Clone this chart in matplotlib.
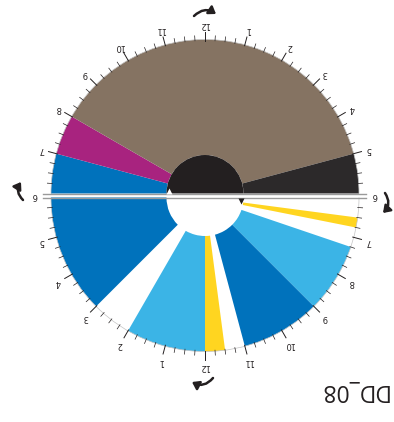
"""Twin 12-hour clock dial (shown rotated 180 degrees), activity blocks per half."""

import numpy as np
import matplotlib
matplotlib.use("Agg")
import matplotlib.pyplot as plt
from matplotlib.patches import Wedge, Arc, FancyArrowPatch

# top half: 6 -> 12 -> 6 (left to right over the top)
top_start = [6, 7, 8, 17]
top_end = [7, 8, 17, 18]
top_colors = ["#0072bc", "#a8237f", "#857362", "#2c292a"]

# bottom half: 6 -> 12 -> 6 (right to left under the bottom)
bot_start = [6.5, 7.25, 9, 11.5, 12, 15]
bot_end = [6.75, 9, 11, 12, 14, 18]
bot_colors = ["#ffd520", "#3bb4e6", "#0072bc", "#ffd520", "#3bb4e6", "#0072bc"]

hour_labels = ["6", "7", "8", "9", "10", "11", "12", "1", "2", "3", "4", "5", "6"]
title = "DD_08"

INK = "#231f20"
CX = 205
TOP_CY = 422 - 193.5
BOT_CY = 422 - 197.5
R = 154
R_IN = 38.5


def top_angle(h):
    return 180 - (h - 6) * 15


def bot_angle(h):
    return -(h - 6) * 15


def polar(cy, ang, r):
    a = np.radians(ang)
    return CX + r * np.cos(a), cy + r * np.sin(a)


fig = plt.figure(figsize=(3.94, 4.22), dpi=100)
ax = fig.add_axes([0, 0, 1, 1])
ax.set_xlim(0, 394)
ax.set_ylim(0, 422)
ax.axis("off")

# wedges
for s, e, c in zip(top_start, top_end, top_colors):
    ax.add_patch(Wedge((CX, TOP_CY), R, top_angle(e), top_angle(s),
                       width=R - R_IN, facecolor=c, edgecolor="none"))
ax.add_patch(Wedge((CX, TOP_CY), R_IN, 0, 180, facecolor=INK, edgecolor="none"))
for s, e, c in zip(bot_start, bot_end, bot_colors):
    ax.add_patch(Wedge((CX, BOT_CY), R, bot_angle(e), bot_angle(s),
                       width=R - R_IN, facecolor=c, edgecolor="none"))

# outer outlines
ax.add_patch(Arc((CX, TOP_CY), 2 * R, 2 * R, theta1=0, theta2=180,
                 color="#c4c4c4", lw=0.5))
ax.add_patch(Arc((CX, BOT_CY), 2 * R, 2 * R, theta1=180, theta2=360,
                 color="#c4c4c4", lw=0.5))

# baselines
for cy in (TOP_CY, BOT_CY):
    ax.plot([CX - 162, CX + 161], [cy, cy], color="#9a9a9a", lw=1.0)

# ticks and labels
quarters = np.arange(6, 18.01, 0.25)
for cy, fn in ((TOP_CY, top_angle), (BOT_CY, bot_angle)):
    for q in quarters:
        if q in (6, 18):
            continue
        major = float(q).is_integer()
        ang = fn(q)
        x0, y0 = polar(cy, ang, R - 1)
        x1, y1 = polar(cy, ang, R + (8 if major else 4))
        ax.plot([x0, x1], [y0, y1], color=INK, lw=0.7 if major else 0.5)
    for i, lab in enumerate(hour_labels[1:-1], start=7):
        x, y = polar(cy, fn(i), 169.5)
        ax.text(x, y, lab, rotation=180, ha="center", va="center",
                fontsize=6, color=INK, family="DejaVu Sans")
ax.text(CX - 170, (TOP_CY + BOT_CY) / 2, hour_labels[0], rotation=180,
        ha="center", va="center", fontsize=6, color=INK)
ax.text(CX + 170, (TOP_CY + BOT_CY) / 2, hour_labels[-1], rotation=180,
        ha="center", va="center", fontsize=6, color=INK)

# hand markers
ax.plot(CX - 36, TOP_CY + 3, marker="^", ms=4, color="white", mec="none")
ax.plot(CX + 36, BOT_CY - 3, marker="v", ms=4, color=INK, mec="none")

# rotation arrows
for start, end in (((194, 406), (216, 408)), ((385, 229), (383, 209)),
                   ((213, 44), (192, 40)), ((23, 222), (21, 240))):
    ax.add_patch(FancyArrowPatch(start, end, connectionstyle="arc3,rad=-0.4",
                                 arrowstyle="-|>,head_length=0.5,head_width=0.35",
                                 mutation_scale=8, lw=1.8, color=INK,
                                 shrinkA=0, shrinkB=0))

ax.text(353, 32, title, rotation=180, ha="center", va="center",
        fontsize=16.5, color=INK, family="Open Sans")

fig.savefig("out.png", dpi=100)
